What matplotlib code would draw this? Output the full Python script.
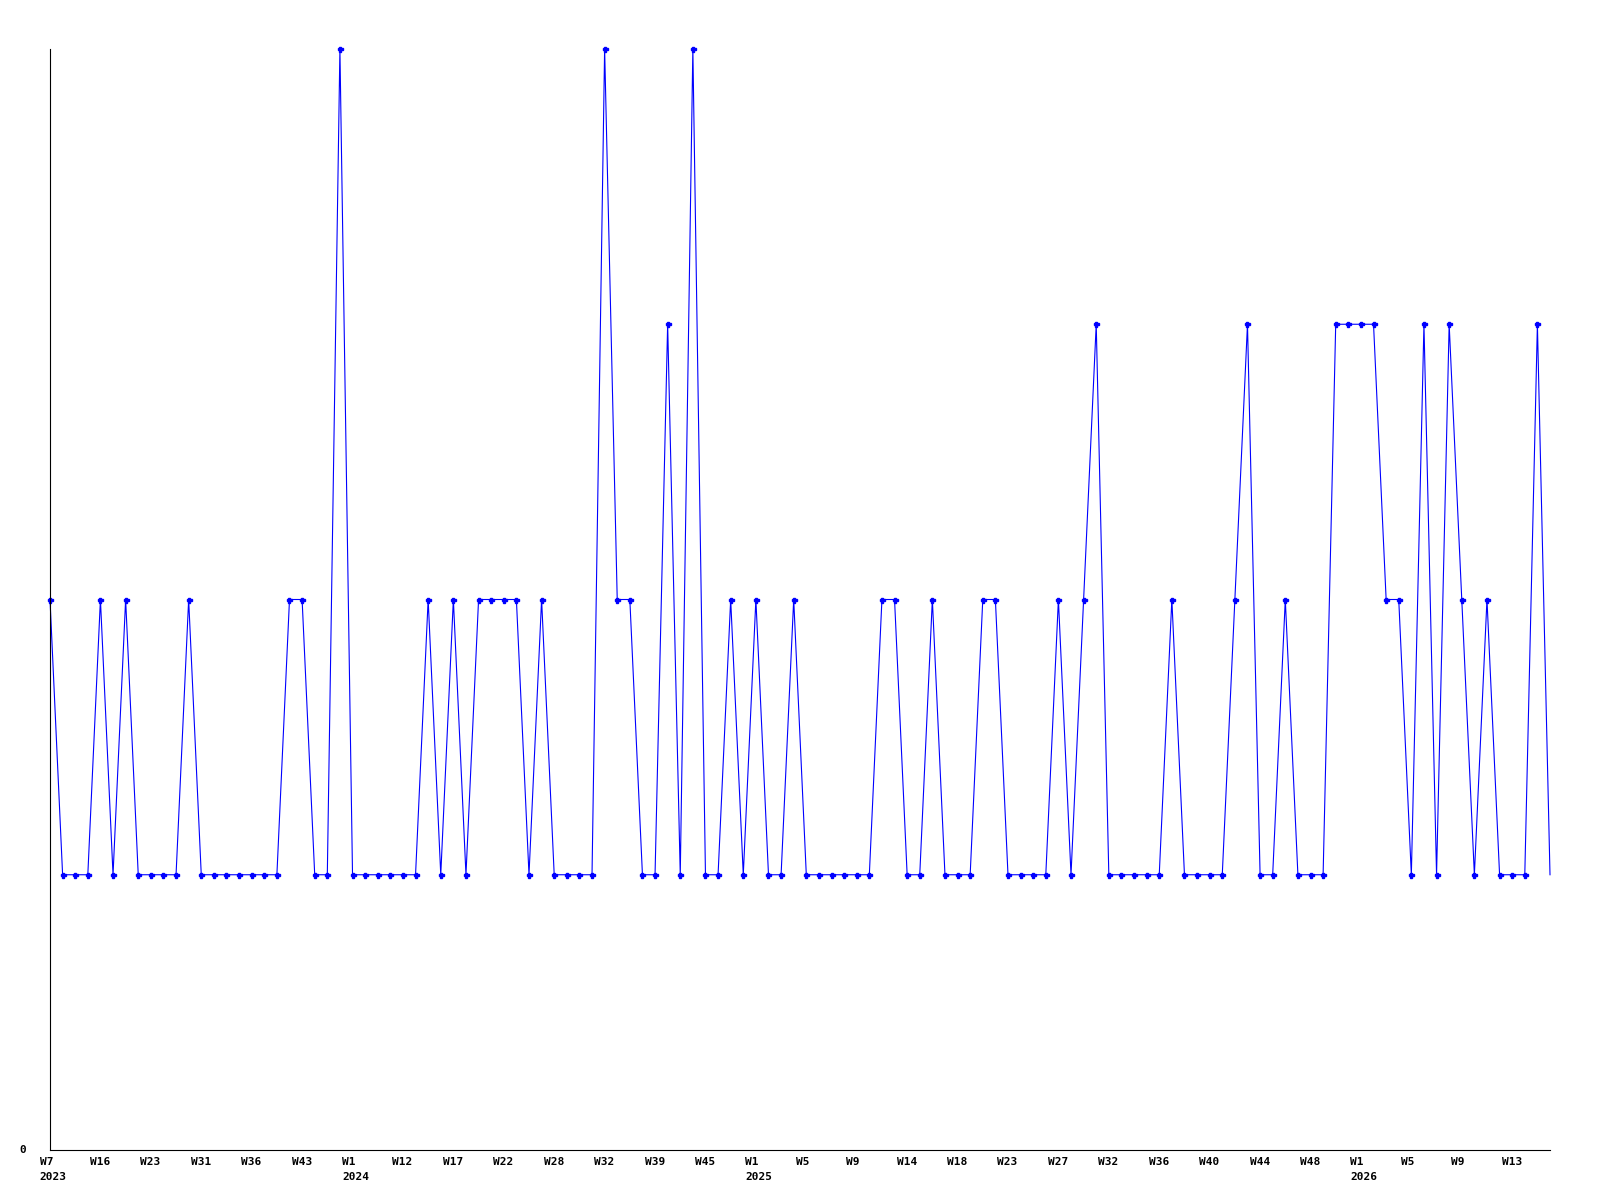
import matplotlib
matplotlib.use('Agg')
import matplotlib.pyplot as plt
from matplotlib.transforms import blended_transform_factory, offset_copy

# one value per sample
values = [2,1,1,1,2,1,2,1,1,1, 1,2,1,1,1,1,1,1,1,2,
          2,1,1,4,1,1,1,1,1,1, 2,1,2,1,2,2,2,2,1,2,
          1,1,1,1,4,2,2,1,1,3, 1,4,1,1,2,1,2,1,1,2,
          1,1,1,1,1,1,2,2,1,1, 2,1,1,1,2,2,1,1,1,1,
          2,1,2,3,1,1,1,1,1,2, 1,1,1,1,2,3,1,1,2,1,
          1,1,3,3,3,3,2,2,1,3, 1,3,2,1,2,1,1,1,3,1]

# a label every 4th sample
week_labels = ['W7','W16','W23','W31','W36','W43','W1','W12','W17','W22',
               'W28','W32','W39','W45','W1','W5','W9','W14','W18','W23',
               'W27','W32','W36','W40','W44','W48','W1','W5','W9','W13']
year_pos = [0, 24, 56, 104]
year_labels = ['2023', '2024', '2025', '2026']

x = list(range(len(values)))

fig = plt.figure(figsize=(16, 12), dpi=100)
ax = fig.add_axes([50/1600, 50/1200, 1500/1600, 1101/1200])

ax.plot(x, values, color='#0000ff', lw=0.8, clip_on=False)
ax.plot(x[:-1], values[:-1], ls='none', marker='P', ms=3.6, color='#0000ff',
        mec='#0000ff', clip_on=False)

ax.set_xlim(0, len(values) - 1)
ax.set_ylim(0, 4)

for s in ['top', 'right']:
    ax.spines[s].set_visible(False)
for s in ['left', 'bottom']:
    ax.spines[s].set_linewidth(0.8)
    ax.spines[s].set_color('black')
ax.set_xticks([])
ax.set_yticks([])

font = dict(family='DejaVu Sans Mono', weight='bold', fontsize=8)
trans = blended_transform_factory(ax.transData, ax.transAxes)
wk_t = offset_copy(trans, fig=fig, x=-10.5, y=-12, units='dots')
yr_t = offset_copy(trans, fig=fig, x=-10.5, y=-27, units='dots')

for i, lab in enumerate(week_labels):
    ax.text(i * 4, 0, lab, transform=wk_t, ha='left', va='center', **font)
for p, lab in zip(year_pos, year_labels):
    ax.text(p, 0, lab, transform=yr_t, ha='left', va='center', **font)

ax.text(0, 0, '0', transform=offset_copy(ax.transAxes, fig=fig, x=-27, y=0, units='dots'),
        ha='center', va='center', **font)

fig.savefig('out.png', dpi=100)
